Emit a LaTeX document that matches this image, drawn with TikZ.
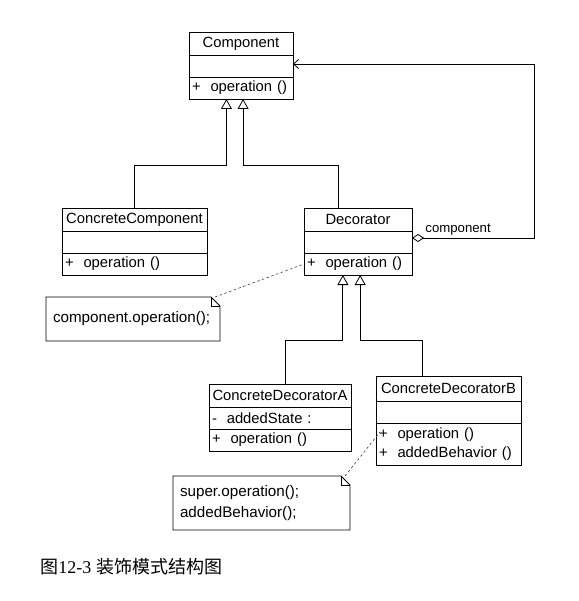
\documentclass[tikz,border=0pt]{standalone}
\usepackage{fontspec}
\newfontfamily\umlfont{Liberation Sans}
\newfontfamily\capfont{Liberation Serif}
\newfontfamily\cjk{Noto Sans CJK SC}
\usetikzlibrary{positioning,arrows.meta,calc}
\definecolor{umlInk}{RGB}{0,0,0}
\definecolor{noteInk}{RGB}{60,60,60}

\tikzset{
  umltext/.style={font=\umlfont\fontsize{14.8}{19}\selectfont},
  clshead/.style={draw=umlInk, umltext, minimum width=#1, minimum height=23pt, inner sep=0pt, outer sep=0pt},
  clsrow/.style={draw=umlInk, umltext, text width=#1, minimum height=22pt, inner xsep=3pt, inner ysep=0pt, outer sep=0pt, align=left},
  notebox/.style={font=\umlfont\fontsize{15.2}{21}\selectfont, text width=#1, minimum height=44pt, inner xsep=7pt, inner ysep=0pt, outer sep=0pt, align=left, anchor=north west},
  inherit/.style={draw=umlInk, line width=0.8pt, -{Triangle[open, length=10pt, width=11pt]}},
  aggr/.style={draw=umlInk, line width=0.8pt, {Diamond[open, length=12pt, width=8pt]}-{Straight Barb[length=5pt, width=9pt]}},
  noteline/.style={draw=noteInk, line width=0.6pt, dash pattern=on 2.5pt off 2.5pt},
}

% note outline with folded corner
\newcommand{\notefold}[1]{%
  \draw[umlInk, line width=0.8pt] (#1.north west) -- ([xshift=-9pt]#1.north east) -- ([yshift=-9pt]#1.north east) -- (#1.south east) -- (#1.south west) -- cycle;
  \draw[umlInk, line width=0.6pt] ([xshift=-9pt]#1.north east) |- ([yshift=-9pt]#1.north east);
}

\begin{document}
\begin{tikzpicture}[x=1pt, y=-1pt, line width=0.8pt]
  \useasboundingbox (0,0) rectangle (578,601);

  % Component
  \node[clshead=104pt, anchor=north west] (comp) at (189,32) {Component};
  \node[clsrow=98pt, below=0pt of comp] (comp-a) {};
  \node[clsrow=98pt, below=0pt of comp-a] (comp-o) {+ \ operation ()};

  % ConcreteComponent
  \node[clshead=145pt, anchor=north west] (ccomp) at (62,208) {ConcreteComponent};
  \node[clsrow=139pt, below=0pt of ccomp] (ccomp-a) {};
  \node[clsrow=139pt, below=0pt of ccomp-a] (ccomp-o) {+ \ operation ()};

  % Decorator
  \node[clshead=108pt, anchor=north west] (dec) at (304,208) {Decorator};
  \node[clsrow=102pt, below=0pt of dec] (dec-a) {};
  \node[clsrow=102pt, below=0pt of dec-a] (dec-o) {+ \ operation ()};

  % ConcreteDecoratorA
  \node[clshead=142pt, anchor=north west] (cda) at (209,384) {ConcreteDecoratorA};
  \node[clsrow=136pt, below=0pt of cda] (cda-a) {- \ addedState :};
  \node[clsrow=136pt, below=0pt of cda-a] (cda-o) {+ \ operation ()};

  % ConcreteDecoratorB
  \node[clshead=145pt, minimum height=25pt, anchor=north west] (cdb) at (376,376) {ConcreteDecoratorB};
  \node[clsrow=139pt, below=0pt of cdb] (cdb-a) {};
  \node[clsrow=139pt, minimum height=42pt, below=0pt of cdb-a] (cdb-o) {+ \ operation ()\\+ \ addedBehavior ()};

  % attach points
  \coordinate (comp-in1) at ($(comp-o.south west)!0.36!(comp-o.south east)$);
  \coordinate (comp-in2) at ($(comp-o.south west)!0.52!(comp-o.south east)$);
  \coordinate (dec-in1) at ($(dec-o.south west)!0.36!(dec-o.south east)$);
  \coordinate (dec-in2) at ($(dec-o.south west)!0.52!(dec-o.south east)$);
  \coordinate (dec-up) at ($(dec.north west)!0.32!(dec.north east)$);
  \coordinate (cda-up) at ($(cda.north west)!0.54!(cda.north east)$);
  \coordinate (cdb-up) at ($(cdb.north west)!0.32!(cdb.north east)$);
  \coordinate (dec-agg) at ($(dec-a.north east)+(0,7)$);

  % generalizations
  \draw[inherit] (ccomp.north) -- ++(0,-43) -| (comp-in1);
  \draw[inherit] (dec-up) -- ++(0,-43) -| (comp-in2);
  \draw[inherit] (cda-up) -- ++(0,-44) -| (dec-in1);
  \draw[inherit] (cdb-up) -- ++(0,-36) -| (dec-in2);

  % aggregation
  \draw[aggr] (dec-agg) -- ++(122,0) |- ($(comp-a.east)+(0,-2)$);
  \node[font=\umlfont\fontsize{13.2}{16}\selectfont, anchor=south west, inner sep=1pt] (role) at ($(dec-agg)+(12,-1)$) {component};

  % notes
  \node[notebox=160pt, minimum width=174pt] (note1) at (46,297) {component.operation();};
  \notefold{note1}
  \node[notebox=163pt, minimum width=177pt, minimum height=54pt] (note2) at (173,476) {super.operation();\\addedBehavior();};
  \notefold{note2}
  \draw[noteline] ([xshift=-5pt]note1.north east) -- (dec-o.west);
  \draw[noteline] ([xshift=-5pt]note2.north east) -- ($(cdb-o.north west)+(4,9)$);

  % caption
  \node[anchor=west, inner sep=0pt, font=\fontsize{18}{20}\selectfont] (caption) at (40,567) {{\cjk 图}{\capfont 12-3} {\cjk 装饰模式结构图}};
\end{tikzpicture}
\end{document}
